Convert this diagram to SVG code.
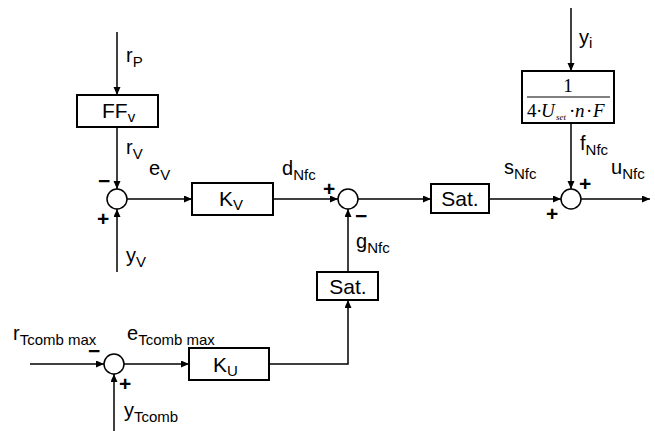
<svg xmlns="http://www.w3.org/2000/svg" width="655" height="431" viewBox="0 0 655 431">
<defs>
<marker id="arr" markerUnits="userSpaceOnUse" markerWidth="9" markerHeight="8" refX="8" refY="3.5" orient="auto">
<path d="M0,0 L8,3.5 L0,7 z" fill="#000"/>
</marker>
</defs>
<style>
.w{stroke:#000;stroke-width:1.5;fill:none}
.b{stroke:#000;stroke-width:2;fill:#fff}
.c{stroke:#000;stroke-width:1.5;fill:#fff}
text{font-family:"Liberation Sans",Arial,sans-serif;font-size:20px;fill:#000}
.bx{font-size:21px}
.s{font-size:15px}
.sg{font-family:"Liberation Sans",Arial,sans-serif;font-size:21px;font-weight:bold}
.tm{font-family:"Liberation Serif","Times New Roman",serif;font-size:19px}
.tm.i{font-style:italic}
.tm.sub{font-style:italic;font-size:9px}
</style>
<rect width="655" height="431" fill="#fff"/>
<g id="connectors">
<line class="w" x1="117" y1="32" x2="117" y2="95" marker-end="url(#arr)"/>
<line class="w" x1="117" y1="127" x2="117" y2="189" marker-end="url(#arr)"/>
<line class="w" x1="117" y1="272" x2="117" y2="209" marker-end="url(#arr)"/>
<line class="w" x1="127" y1="199" x2="192" y2="199" marker-end="url(#arr)"/>
<line class="w" x1="273" y1="199" x2="338" y2="199" marker-end="url(#arr)"/>
<line class="w" x1="358" y1="199" x2="431" y2="199" marker-end="url(#arr)"/>
<line class="w" x1="489" y1="199" x2="561" y2="199" marker-end="url(#arr)"/>
<line class="w" x1="581" y1="199" x2="650" y2="199" marker-end="url(#arr)"/>
<line class="w" x1="571" y1="8" x2="571" y2="71" marker-end="url(#arr)"/>
<line class="w" x1="571" y1="123" x2="571" y2="189" marker-end="url(#arr)"/>
<line class="w" x1="348" y1="272" x2="348" y2="209" marker-end="url(#arr)"/>
<line class="w" x1="30" y1="364" x2="104" y2="364" marker-end="url(#arr)"/>
<line class="w" x1="124" y1="364" x2="189" y2="364" marker-end="url(#arr)"/>
<polyline class="w" points="269,364 348,364 348,300" marker-end="url(#arr)"/>
<line class="w" x1="114" y1="431" x2="114" y2="374" marker-end="url(#arr)"/>
</g>
<g id="ff">
<rect class="b" x="77" y="95" width="81" height="32"/>
<text class="bx" x="102" y="118">FF<tspan class="s" dy="4">v</tspan></text>
</g>
<g id="sum1">
<circle class="c" cx="117" cy="199" r="10"/>
<text class="sg" x="98" y="188">−</text>
<text class="sg" x="97" y="226">+</text>
</g>
<g id="kv">
<rect class="b" x="192" y="183" width="81" height="32"/>
<text class="bx" x="219" y="206">K<tspan class="s" dy="4">V</tspan></text>
</g>
<g id="sum2">
<circle class="c" cx="348" cy="199" r="10"/>
<text class="sg" x="323" y="196">+</text>
<text class="sg" x="355" y="223">−</text>
</g>
<g id="sat1">
<rect class="b" x="431" y="184" width="58" height="29"/>
<text class="bx" x="460" y="206" text-anchor="middle">Sat.</text>
</g>
<g id="frac">
<rect class="b" x="522" y="71" width="92" height="52"/>
<text class="tm" x="568" y="92" text-anchor="middle">1</text>
<line x1="527" y1="97" x2="610" y2="97" stroke="#000" stroke-width="1"/>
<text class="tm" x="527" y="117">4</text>
<text class="tm" x="536" y="117">·</text>
<text class="tm i" x="541" y="117">U</text>
<text class="tm sub" x="556" y="120">set</text>
<text class="tm" x="569" y="117">·</text>
<text class="tm i" x="575" y="117">n</text>
<text class="tm" x="586" y="117">·</text>
<text class="tm i" x="593" y="117">F</text>
</g>
<g id="sum3">
<circle class="c" cx="571" cy="199" r="10"/>
<text class="sg" x="579" y="191">+</text>
<text class="sg" x="546" y="221">+</text>
</g>
<g id="sat2">
<rect class="b" x="317" y="272" width="61" height="28"/>
<text class="bx" x="348" y="294" text-anchor="middle">Sat.</text>
</g>
<g id="sum4">
<circle class="c" cx="114" cy="364" r="10"/>
<text class="sg" x="88" y="358">−</text>
<text class="sg" x="119" y="391">+</text>
</g>
<g id="ku">
<rect class="b" x="189" y="348" width="80" height="32"/>
<text class="bx" x="213" y="372">K<tspan class="s" dy="4">U</tspan></text>
</g>
<g id="labels">
<text x="126" y="62">r<tspan class="s" dy="5">P</tspan></text>
<text x="126" y="154">r<tspan class="s" dy="5">V</tspan></text>
<text x="149" y="175">e<tspan class="s" dy="5">V</tspan></text>
<text x="282" y="175">d<tspan class="s" dy="5">Nfc</tspan></text>
<text x="504" y="174">s<tspan class="s" dy="5">Nfc</tspan></text>
<text x="611" y="174">u<tspan class="s" dy="5">Nfc</tspan></text>
<text x="580" y="150">f<tspan class="s" dy="5">Nfc</tspan></text>
<text x="579" y="44">y<tspan class="s" dy="4">i</tspan></text>
<text x="126" y="262">y<tspan class="s" dy="5">V</tspan></text>
<text x="356" y="248">g<tspan class="s" dy="5">Nfc</tspan></text>
<text x="13" y="340">r<tspan class="s" dy="5">Tcomb max</tspan></text>
<text x="127" y="340">e<tspan class="s" dy="5">Tcomb max</tspan></text>
<text x="124" y="417">y<tspan class="s" dy="5">Tcomb</tspan></text>
</g>
</svg>
